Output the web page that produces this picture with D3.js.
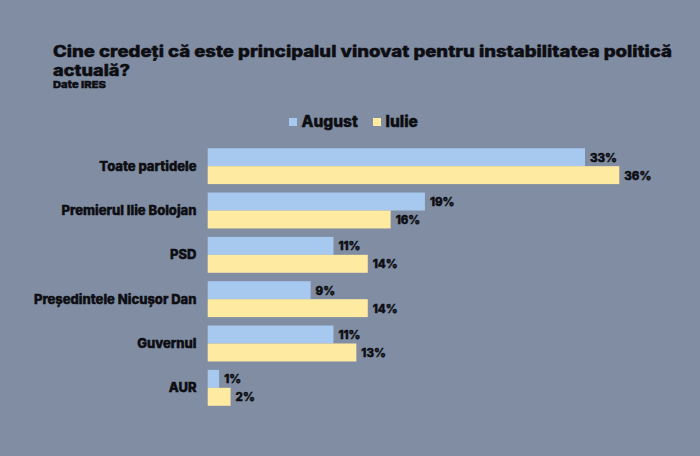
<!DOCTYPE html>
<html>
<head>
<meta charset="utf-8">
<script src="https://cdn.jsdelivr.net/npm/d3@7"></script>
<style>
  body { margin: 0; background: #808da3; }
  svg { display: block; font-family: Inter, "Open Sans", sans-serif; }
  .heavy { font-weight: 800; fill: #0d0d12; stroke: #0d0d12; stroke-width: 0.45; paint-order: stroke; }
</style>
</head>
<body>
<svg class="chart" width="700" height="456"></svg>
<script>
(function(){
// data
var categories = ["Toate partidele", "Premierul Ilie Bolojan", "PSD", "Președintele Nicușor Dan", "Guvernul", "AUR"];
var series = ["August", "Iulie"];
var august = [33, 19, 11, 9, 11, 1];
var iulie = [36, 16, 14, 14, 13, 2];
var colors = ["#a7c9f0", "#ffeaa1"];

var width = 700, height = 456;
var svg = d3.select('.chart');

svg.append('rect').attr('width', width).attr('height', height).attr('fill', '#808da3');

// title, two lines
svg.append('text').attr('class', 'heavy')
  .attr('x', 53).attr('y', 57)
  .attr('font-size', 15.5).attr('stroke-width', 0.6)
  .attr('textLength', 619).attr('lengthAdjust', 'spacingAndGlyphs')
  .text('Cine credeți că este principalul vinovat pentru instabilitatea politică');
svg.append('text').attr('class', 'heavy')
  .attr('x', 53).attr('y', 75.5)
  .attr('font-size', 15.5).attr('stroke-width', 0.6)
  .attr('textLength', 77).attr('lengthAdjust', 'spacingAndGlyphs')
  .text('actuală?');

svg.append('text').attr('class', 'heavy')
  .attr('x', 53).attr('y', 88)
  .attr('font-size', 9.5).attr('stroke-width', 0.3)
  .attr('textLength', 53).attr('lengthAdjust', 'spacingAndGlyphs')
  .text('Date IRES');

// legend
var legendX = [289, 373];
var legend = svg.selectAll('.legend').data(series).enter().append('g')
  .attr('class', 'legend')
  .attr('transform', function(d, i){ return 'translate(' + legendX[i] + ',118)'; });
legend.append('rect').attr('width', 8).attr('height', 8)
  .attr('fill', function(d, i){ return colors[i]; });
legend.append('text').attr('class', 'heavy').attr('x', 12.5).attr('y', 9)
  .attr('font-size', 15.5)
  .text(function(d){ return d; });

// scales
var x = d3.scaleLinear().domain([0, 36]).range([207.7, 619.3]);
var y0 = d3.scaleBand().domain(categories).range([144, 410])
  .paddingInner(0.19).paddingOuter(0.095);
var y1 = d3.scaleBand().domain(series).range([0, y0.bandwidth()]);

var rows = categories.map(function(c, i){
  return { label: c, values: [august[i], iulie[i]] };
});

var groups = svg.selectAll('.group').data(rows).enter().append('g')
  .attr('class', 'group')
  .attr('transform', function(d){ return 'translate(0,' + y0(d.label) + ')'; });

groups.append('text').attr('class', 'heavy')
  .attr('x', 196.5).attr('y', y0.bandwidth() / 2)
  .attr('dy', '0.35em').attr('text-anchor', 'end')
  .attr('font-size', 13)
  .text(function(d){ return d.label; });

var bars = groups.selectAll('.bar').data(function(d){
  return d.values.map(function(v, i){ return { s: series[i], v: v, i: i }; });
}).enter();

bars.append('rect')
  .attr('class', 'bar')
  .attr('x', x(0))
  .attr('y', function(d){ return y1(d.s); })
  .attr('width', function(d){ return x(d.v) - x(0); })
  .attr('height', y1.bandwidth())
  .attr('fill', function(d){ return colors[d.i]; });

bars.append('text').attr('class', 'heavy')
  .attr('x', function(d){ return x(d.v) + 5; })
  .attr('y', function(d){ return y1(d.s) + y1.bandwidth() / 2; })
  .attr('dy', '0.38em')
  .attr('font-size', 11.5)
  .text(function(d){ return d.v + '%'; });
})();
</script>
</body>
</html>
